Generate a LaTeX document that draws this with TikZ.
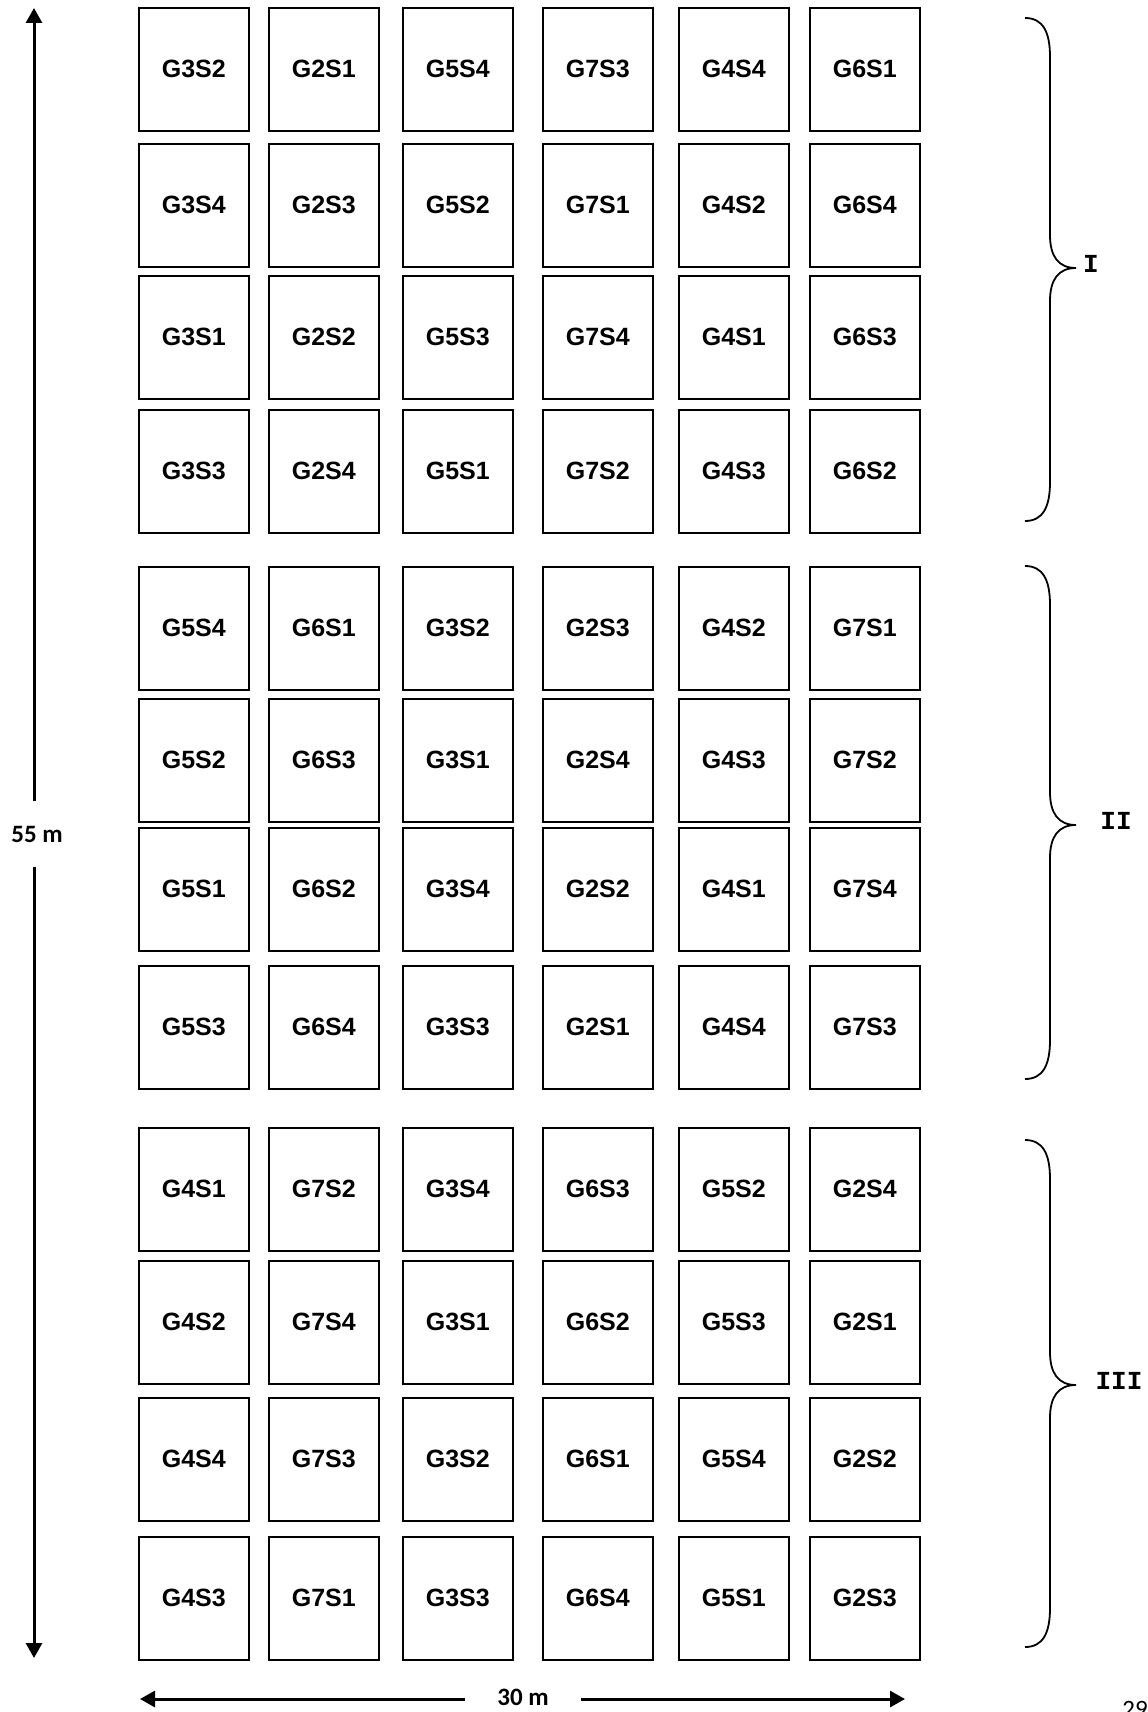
\documentclass[tikz,border=0pt]{standalone}
\usepackage{fontspec}
\usepackage{tikz}
\usetikzlibrary{positioning,arrows.meta,calc}
\newfontfamily\plotfont{Liberation Sans}
\newfontfamily\dimfont{Carlito}
\newfontfamily\blockfont{Liberation Mono}
\tikzset{
  plot/.style     = {draw=black, line width=0.8pt, anchor=north west, inner sep=0pt,
                     minimum width=55pt, minimum height=61.5pt,
                     font=\plotfont\bfseries\fontsize{12.5}{15}\selectfont},
  dimline/.style  = {-{Triangle[length=7.5pt,width=8pt]}, line width=1.5pt},
  dimlab/.style   = {font=\dimfont\bfseries\fontsize{12.5}{15}\selectfont},
  bracket/.style  = {line width=0.9pt},
  blocklab/.style = {font=\blockfont\bfseries\fontsize{13}{15}\selectfont, inner sep=0pt},
}
\begin{document}
\begin{tikzpicture}[x=0.5pt,y=-0.5pt]
  \useasboundingbox (0,0) rectangle (1147,1712);
  % plots: three blocks of four rows
  \foreach \y/\a/\b/\c/\d/\e/\f [count=\r] in {
      7/G3S2/G2S1/G5S4/G7S3/G4S4/G6S1,
      143/G3S4/G2S3/G5S2/G7S1/G4S2/G6S4,
      275/G3S1/G2S2/G5S3/G7S4/G4S1/G6S3,
      409/G3S3/G2S4/G5S1/G7S2/G4S3/G6S2,
      566/G5S4/G6S1/G3S2/G2S3/G4S2/G7S1,
      698/G5S2/G6S3/G3S1/G2S4/G4S3/G7S2,
      827/G5S1/G6S2/G3S4/G2S2/G4S1/G7S4,
      965/G5S3/G6S4/G3S3/G2S1/G4S4/G7S3,
      1127/G4S1/G7S2/G3S4/G6S3/G5S2/G2S4,
      1260/G4S2/G7S4/G3S1/G6S2/G5S3/G2S1,
      1397/G4S4/G7S3/G3S2/G6S1/G5S4/G2S2,
      1536/G4S3/G7S1/G3S3/G6S4/G5S1/G2S3}{
    \node[plot] (p\r-1) at (138,\y) {\a};
    \node[plot] (p\r-2) at (268,\y) {\b};
    \node[plot] (p\r-3) at (402,\y) {\c};
    \node[plot] (p\r-4) at (542,\y) {\d};
    \node[plot] (p\r-5) at (678,\y) {\e};
    \node[plot] (p\r-6) at (809,\y) {\f};}
  % length (55 m)
  \coordinate (htop) at (34,8);
  \coordinate (hbot) at (34,1658);
  \node[dimlab, inner xsep=2pt, inner ysep=12pt] (hlab) at (37,834) {55 m};
  \draw[dimline] (hlab.north -| htop) -- (htop);
  \draw[dimline] (hlab.south -| hbot) -- (hbot);
  % width (30 m)
  \coordinate (wleft) at (140,1699);
  \coordinate (wright) at (905,1699);
  \node[dimlab, inner xsep=16pt, inner ysep=1pt] (wlab) at (523,1697) {30 m};
  \draw[dimline] (wlab.west |- wleft) -- (wleft);
  \draw[dimline] (wlab.east |- wright) -- (wright);
  % replications
  \foreach \t/\m/\b/\lab/\lx in {18/268/521/I/1091,566/825/1079/II/1116,1140/1385/1647/III/1119}{
    \draw[bracket] (1025,\t) .. controls (1043,\t) and (1050,{\t+14}) .. (1050,{\t+39})
      -- (1050,{\m-33}) .. controls (1050,{\m-12}) and (1058,\m) .. (1076,\m)
      .. controls (1058,\m) and (1050,{\m+12}) .. (1050,{\m+33})
      -- (1050,{\b-39}) .. controls (1050,{\b-14}) and (1043,\b) .. (1025,\b);
    \node[blocklab] (rep-\lab) at (\lx,{\m-4}) {\lab};}
  \node[font=\dimfont\fontsize{12.5}{15}\selectfont, anchor=north west, inner sep=0pt] (pageno) at (1122,1701) {29};
\end{tikzpicture}
\end{document}
